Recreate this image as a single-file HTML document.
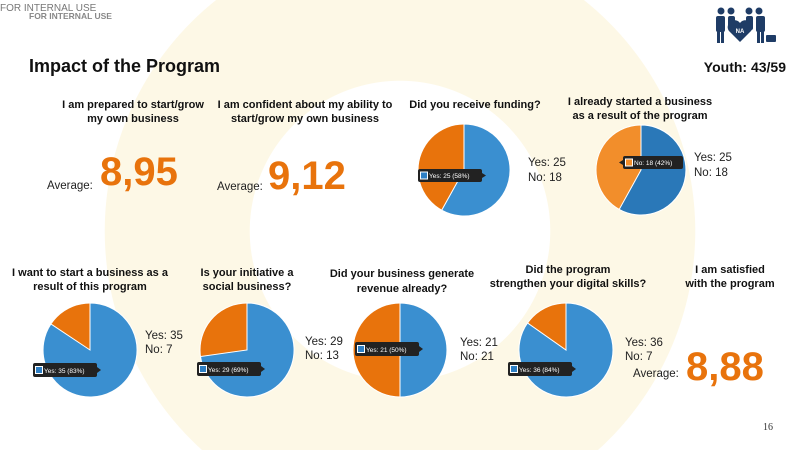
<!DOCTYPE html>
<html><head><meta charset="utf-8"><style>
html,body{margin:0;padding:0;width:800px;height:450px;overflow:hidden;font-family:"Liberation Sans",sans-serif}
body{background:radial-gradient(circle 295px at 400px 231px,#fff 0,#fff 150px,#fdf8e6 150.5px,#fdf8e6 295px,#fff 295.5px)}
svg{display:block}
</style></head><body>
<svg width="800" height="450" viewBox="0 0 800 450" xmlns="http://www.w3.org/2000/svg" font-family="Liberation Sans, sans-serif">
<text x="0" y="11" font-size="10" fill="#777">FOR INTERNAL USE</text>
<text x="29" y="19" font-size="8.5" font-weight="bold" fill="#888">FOR INTERNAL USE</text>
<text x="29" y="72" font-size="18" font-weight="bold" fill="#111">Impact of the Program</text>
<text x="786" y="72" font-size="14" font-weight="bold" fill="#111" text-anchor="end">Youth: 43/59</text>
<g fill="#1f3c66">
<circle cx="721" cy="11" r="3.5"/><circle cx="731" cy="11" r="3.5"/><circle cx="749" cy="11" r="3.5"/><circle cx="759" cy="11" r="3.5"/>
<rect x="716" y="16" width="9" height="16" rx="2"/><rect x="728" y="16" width="7" height="14" rx="2"/><rect x="746" y="16" width="7" height="14" rx="2"/><rect x="756" y="16" width="9" height="16" rx="2"/>
<rect x="717" y="30" width="3" height="13"/><rect x="721" y="30" width="3" height="13"/><rect x="757" y="30" width="3" height="13"/><rect x="761" y="30" width="3" height="13"/>
<path d="M740 42 L729 31 A6 6 0 0 1 740 23 A6 6 0 0 1 751 31 Z"/>
<rect x="766" y="35" width="10" height="7" rx="1"/>
</g>
<text x="740" y="33" font-size="6" font-weight="bold" fill="#fff" text-anchor="middle">NA</text>
<g font-size="11" font-weight="bold" fill="#111" text-anchor="middle">
<text x="133" y="108">I am prepared to start/grow</text><text x="133" y="122">my own business</text>
<text x="305" y="108">I am confident about my ability to</text><text x="305" y="122">start/grow my own business</text>
<text x="475" y="108">Did you receive funding?</text>
<text x="640" y="105">I already started a business</text><text x="640" y="119">as a result of the program</text>
<text x="90" y="276">I want to start a business as a</text><text x="90" y="290">result of this program</text>
<text x="247" y="276">Is your initiative a</text><text x="247" y="290">social business?</text>
<text x="402" y="277">Did your business generate</text><text x="402" y="292">revenue already?</text>
<text x="568" y="273">Did the program</text><text x="568" y="287">strengthen your digital skills?</text>
<text x="730" y="273">I am satisfied</text><text x="730" y="287">with the program</text>
</g>
<g font-size="11.5" fill="#222">
<text x="47" y="189">Average:</text>
<text x="217" y="190">Average:</text>
<text x="633" y="377">Average:</text>
<text x="528" y="166">Yes: 25</text><text x="528" y="181">No: 18</text>
<text x="694" y="161">Yes: 25</text><text x="694" y="176">No: 18</text>
<text x="145" y="339">Yes: 35</text><text x="145" y="353">No: 7</text>
<text x="305" y="345">Yes: 29</text><text x="305" y="359">No: 13</text>
<text x="460" y="346">Yes: 21</text><text x="460" y="360">No: 21</text>
<text x="625" y="346">Yes: 36</text><text x="625" y="360">No: 7</text>
</g>
<g font-size="40" font-weight="bold" fill="#e8730c">
<text x="100" y="185">8,95</text>
<text x="268" y="189">9,12</text>
<text x="686" y="380">8,88</text>
</g>
<text x="773" y="430" font-size="10" fill="#333" text-anchor="end" font-family="Liberation Serif, serif">16</text>
<g stroke="#fff" stroke-width="1">
<circle cx="464" cy="170" r="46" fill="#e8730c"/>
<path d="M464 170 L464 124 A46 46 0 1 1 441.7 210.2 Z" fill="#3a8fd0"/>
<circle cx="641" cy="170" r="45" fill="#f28e2b"/>
<path d="M641 170 L641 125 A45 45 0 1 1 619.2 209.4 Z" fill="#2a78b8"/>
<circle cx="90" cy="350" r="47" fill="#e8730c"/>
<path d="M90 350 L90 303 A47 47 0 1 1 50.9 324 Z" fill="#3a8fd0"/>
<circle cx="247" cy="350" r="47" fill="#e8730c"/>
<path d="M247 350 L247 303 A47 47 0 1 1 200.5 356.5 Z" fill="#3a8fd0"/>
<circle cx="400" cy="350" r="47" fill="#e8730c"/>
<path d="M400 350 L400 303 A47 47 0 0 1 400 397 Z" fill="#3a8fd0"/>
<circle cx="566" cy="350" r="47" fill="#e8730c"/>
<path d="M566 350 L566 303 A47 47 0 1 1 527.5 323 Z" fill="#3a8fd0"/>
</g>
<g font-size="6.5" fill="#fff">
<g transform="translate(418,169)"><rect width="64" height="13" rx="2" fill="#222"/><path d="M64 4 L68 6.5 L64 9Z" fill="#222"/><rect x="2.5" y="3" width="7" height="7" fill="#2e7fc4" stroke="#fff" stroke-width="1"/><text x="11" y="9">Yes: 25 (58%)</text></g>
<g transform="translate(623,156)"><rect width="60" height="13" rx="2" fill="#222"/><path d="M0 4 L-4 6.5 L0 9Z" fill="#222"/><rect x="2.5" y="3" width="7" height="7" fill="#f28e2b" stroke="#fff" stroke-width="1"/><text x="11" y="9">No: 18 (42%)</text></g>
<g transform="translate(33,363)"><rect width="64" height="14" rx="2" fill="#222"/><path d="M64 4 L68 7 L64 10Z" fill="#222"/><rect x="2.5" y="3.5" width="7" height="7" fill="#2e7fc4" stroke="#fff" stroke-width="1"/><text x="11" y="10">Yes: 35 (83%)</text></g>
<g transform="translate(197,362)"><rect width="64" height="14" rx="2" fill="#222"/><path d="M64 4 L68 7 L64 10Z" fill="#222"/><rect x="2.5" y="3.5" width="7" height="7" fill="#2e7fc4" stroke="#fff" stroke-width="1"/><text x="11" y="10">Yes: 29 (69%)</text></g>
<g transform="translate(355,342)"><rect width="64" height="14" rx="2" fill="#222"/><path d="M64 4 L68 7 L64 10Z" fill="#222"/><rect x="2.5" y="3.5" width="7" height="7" fill="#2e7fc4" stroke="#fff" stroke-width="1"/><text x="11" y="10">Yes: 21 (50%)</text></g>
<g transform="translate(508,362)"><rect width="64" height="14" rx="2" fill="#222"/><path d="M64 4 L68 7 L64 10Z" fill="#222"/><rect x="2.5" y="3.5" width="7" height="7" fill="#2e7fc4" stroke="#fff" stroke-width="1"/><text x="11" y="10">Yes: 36 (84%)</text></g>
</g>
</svg>
</body></html>
